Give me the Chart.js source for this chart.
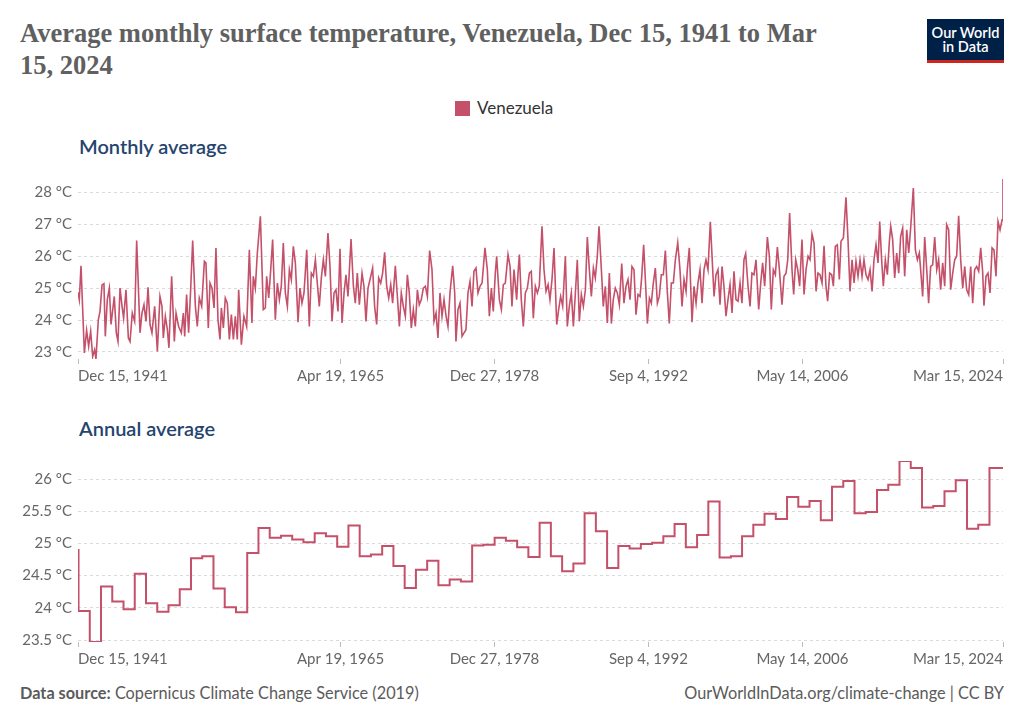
<!DOCTYPE html>
<html>
<head>
<meta charset="utf-8">
<title>Average monthly surface temperature, Venezuela</title>
<script src="https://cdn.jsdelivr.net/npm/chart.js@4.4.0/dist/chart.umd.min.js"></script>
<style>
  body { margin: 0; background: #fff; font-family: Lato, "Noto Sans", sans-serif; }
  #page { position: relative; width: 1024px; height: 723px; overflow: hidden; }
  #title { position: absolute; left: 20px; top: 17px; font-family: "Liberation Serif", serif; font-weight: bold; font-size: 26.5px; line-height: 32px; color: #606060; white-space: nowrap; }
  #logo { position: absolute; left: 927px; top: 19px; width: 77px; height: 44px; background: #002147; border-bottom: 3px solid #ce261e; box-sizing: border-box; color: #fff; text-align: center; font-weight: 600; font-size: 14.5px; line-height: 14px; padding-top: 7px; }
  #legend { position: absolute; left: 455px; top: 97px; font-size: 17px; color: #333; white-space: nowrap; }
  #legend span { display: inline-block; width: 15px; height: 15px; background: #c4506a; vertical-align: -2px; margin-right: 7px; }
  .sub { position: absolute; left: 79px; font-size: 20px; font-weight: 600; color: #26456e; white-space: nowrap; }
  .box { position: absolute; left: 20px; width: 990px; height: 220px; }
  #foot-l { position: absolute; left: 20px; top: 683px; font-size: 16.3px; color: #5b5b5b; }
  #foot-r { position: absolute; right: 20px; top: 683px; font-size: 16.3px; color: #5b5b5b; }
</style>
</head>
<body>
<div id="page">
  <div id="title">Average monthly surface temperature, Venezuela, Dec 15, 1941 to Mar<br>15, 2024</div>
  <div id="logo">Our World<br>in Data</div>
  <div id="legend"><span></span>Venezuela</div>
  <div class="sub" style="top:134px">Monthly average</div>
  <div class="box" style="top:170px"><canvas id="monthly" width="990" height="220"></canvas></div>
  <div class="sub" style="top:416px">Annual average</div>
  <div class="box" style="top:450px"><canvas id="annual" width="990" height="220"></canvas></div>
  <div id="foot-l"><b>Data source:</b> Copernicus Climate Change Service (2019)</div>
  <div id="foot-r">OurWorldInData.org/climate-change | CC BY</div>
</div>
<script>
// x axis ticks (year, month index, day)
const tickDates = [[1941, 11, 15], [1965, 3, 19], [1978, 11, 27], [1992, 8, 4], [2006, 4, 14], [2024, 2, 15]];
const tickLabels = ['Dec 15, 1941', 'Apr 19, 1965', 'Dec 27, 1978', 'Sep 4, 1992', 'May 14, 2006', 'Mar 15, 2024'];

const monthlyYTicks = [23, 24, 25, 26, 27, 28];
const annualYTicks = [23.5, 24, 24.5, 25, 25.5, 26];

// monthly average, decimal year / °C
const monthlyTimes = [
  1941.96,1942.07,1942.22,1942.52,1942.72,1942.90,1943.08,1943.26,1943.43,1943.55,
  1943.76,1943.91,1944.09,1944.26,1944.38,1944.56,1944.74,1944.89,1945.18,1945.36,
  1945.51,1945.69,1945.87,1946.01,1946.22,1946.43,1946.58,1946.78,1946.99,1947.17,
  1947.47,1947.64,1947.82,1948.00,1948.18,1948.36,1948.53,1948.77,1949.01,1949.24,
  1949.42,1949.54,1949.72,1949.90,1950.04,1950.28,1950.52,1950.67,1950.90,1951.14,
  1951.32,1951.44,1951.61,1951.79,1951.97,1952.15,1952.39,1952.56,1952.74,1952.95,
  1953.19,1953.33,1953.54,1953.69,1953.87,1954.05,1954.22,1954.40,1954.58,1954.70,
  1954.88,1955.05,1955.23,1955.41,1955.59,1955.77,1955.94,1956.12,1956.24,1956.48,
  1956.71,1956.95,1957.19,1957.42,1957.54,1957.72,1957.90,1958.17,1958.43,1958.61,
  1958.73,1958.91,1959.09,1959.26,1959.50,1959.68,
  1959.86,1960.03,1960.21,1960.39,1960.57,1960.75,1960.92,1961.10,1961.28,1961.52,
  1961.69,1961.87,1962.05,1962.29,1962.52,1962.70,1962.88,1963.06,1963.23,1963.41,
  1963.59,1963.77,1963.95,1964.18,1964.36,1964.54,1964.72,1964.89,1965.07,1965.25,
  1965.43,1965.61,1965.78,1965.96,1966.23,1966.44,1966.61,1966.79,1966.97,1967.21,
  1967.38,1967.56,1967.74,1967.92,1968.15,1968.33,1968.51,1968.69,1968.87,1969.04,
  1969.22,1969.40,1969.58,1969.76,1969.93,1970.17,1970.35,1970.53,1970.70,1970.88,
  1971.06,1971.24,1971.41,1971.59,1971.77,1971.95,1972.13,1972.30,1972.48,1972.66,
  1972.84,1973.02,1973.22,1973.43,1973.61,1973.79,1973.96,1974.14,1974.32,1974.50,
  1974.68,1974.85,1975.03,1975.27,1975.45,1975.56,1975.74,1975.92,1976.10,1976.28,
  1976.45,1976.63,1976.81,1976.99,1977.16,1977.34,1977.52,1977.70,1977.88,1978.14,
  1978.35,1978.53,1978.71,1978.88,1979.06,1979.18,1979.42,1979.60,1979.77,1979.95,
  1980.19,1980.37,1980.54,1980.72,1980.96,
  1981.08,1981.20,1981.37,1981.55,1981.73,1981.91,1982.09,1982.26,1982.44,1982.62,
  1982.80,1982.97,1983.21,1983.39,1983.57,1983.75,1983.92,1984.10,1984.28,1984.52,
  1984.69,1984.87,1985.05,1985.29,1985.46,1985.64,1985.82,1986.00,1986.18,1986.35,
  1986.53,1986.71,1986.89,1987.07,1987.24,1987.42,1987.60,1987.78,1987.95,1988.13,
  1988.28,1988.49,1988.66,1988.84,1989.02,1989.20,1989.38,1989.55,1989.73,1989.91,
  1990.09,1990.30,1990.50,1990.68,1990.86,1991.04,1991.21,1991.39,1991.57,1991.75,
  1991.93,1992.07,1992.25,1992.46,1992.58,1992.76,1992.93,1993.11,1993.29,1993.47,
  1993.64,1993.82,1994.00,1994.18,1994.36,1994.53,1994.71,1994.89,1995.07,1995.28,
  1995.48,1995.66,1995.84,1996.02,1996.13,1996.31,1996.55,1996.73,1996.91,1997.08,
  1997.26,1997.44,1997.62,1997.79,1997.97,1998.18,1998.39,1998.51,1998.68,1998.86,
  1999.04,1999.22,1999.39,1999.57,1999.75,1999.93,2000.11,2000.28,2000.46,2000.64,
  2000.82,2000.99,2001.17,2001.32,2001.53,2001.71,2001.88,2002.06,2002.24,
  2002.48,2002.66,2002.83,2003.01,2003.25,2003.43,2003.60,2003.78,2003.96,2004.14,
  2004.32,2004.55,2004.73,2004.91,2005.06,2005.23,2005.44,2005.59,2005.77,2005.95,
  2006.12,2006.33,2006.51,2006.69,2006.87,2007.04,2007.22,2007.40,2007.58,2007.75,
  2007.93,2008.11,2008.29,2008.46,2008.61,2008.79,2008.97,2009.12,2009.29,2009.47,
  2009.65,2009.80,2010.01,2010.24,2010.42,2010.60,2010.78,2010.96,2011.13,2011.31,
  2011.49,2011.67,2011.84,2012.02,2012.20,2012.38,2012.56,2012.73,2012.91,2013.09,
  2013.24,2013.41,2013.56,2013.74,2013.92,2014.10,2014.22,2014.39,2014.57,2014.75,
  2014.93,2015.10,2015.28,2015.46,2015.64,2015.82,2015.99,2016.23,2016.41,2016.59,
  2016.76,2016.88,2017.06,2017.24,2017.42,2017.59,2017.77,2017.95,2018.13,2018.31,
  2018.48,2018.66,2018.84,2019.02,2019.19,2019.37,2019.55,2019.73,2019.91,2020.08,
  2020.26,2020.44,2020.62,2020.80,2020.97,2021.15,2021.33,2021.51,2021.68,2021.86,
  2022.04,2022.22,2022.39,2022.51,2022.69,2022.87,2023.05,2023.23,2023.40,2023.58,
  2023.76,2023.94,2024.12,2024.20
];
const monthlyTemps = [
  24.87,24.64,25.70,22.97,23.68,23.18,23.65,22.86,23.07,22.78,
  24.01,24.27,25.10,25.14,23.49,24.64,25.00,23.86,24.74,23.60,
  23.33,25.00,24.43,24.06,24.95,23.44,23.33,24.22,23.96,26.49,
  23.60,24.22,24.48,23.96,25.03,23.86,23.60,24.43,23.02,24.74,
  24.43,23.44,24.12,23.70,23.13,25.37,23.33,24.22,23.80,23.60,
  24.22,23.49,24.80,23.60,24.95,26.49,24.43,23.80,24.69,24.43,
  25.84,25.79,23.75,25.16,25.00,24.38,26.26,24.01,23.39,24.38,
  23.75,24.69,24.53,23.39,24.17,23.39,24.12,23.39,24.95,23.23,
  24.12,23.80,26.20,23.91,25.37,25.00,26.10,27.25,24.33,24.38,
  25.37,24.69,25.58,26.52,24.01,25.16,
  24.64,25.06,26.41,24.85,24.43,25.58,25.27,26.31,25.79,23.93,
  25.00,24.53,24.85,26.20,23.80,25.47,25.37,25.89,25.16,24.43,
  25.32,25.89,25.37,26.73,25.68,23.96,24.85,24.95,24.27,26.23,
  23.91,24.85,25.42,24.74,26.54,25.06,24.53,25.47,24.48,25.47,
  25.06,23.96,25.00,25.27,25.63,24.43,23.86,25.32,25.16,25.47,
  26.12,25.06,24.69,25.11,24.53,25.70,24.74,23.80,24.85,24.43,
  24.12,25.42,24.85,23.75,24.33,23.80,24.95,24.48,24.64,25.00,
  25.06,24.74,26.18,25.58,23.96,24.22,23.44,24.85,24.12,24.64,
  24.12,23.80,24.85,25.70,24.85,23.33,24.33,24.53,23.49,23.60,
  23.70,24.85,25.21,24.43,25.53,25.63,24.85,25.06,25.16,26.26,
  25.58,24.12,25.00,24.27,25.47,26.00,24.64,24.33,25.11,25.16,
  26.05,25.68,24.43,25.58,24.64,
  25.47,26.05,24.64,23.80,24.85,25.00,25.47,25.53,24.06,25.06,
  24.85,25.06,26.94,25.58,24.90,25.11,24.64,25.27,26.26,23.86,
  24.33,24.74,24.43,26.00,23.80,24.43,24.85,23.80,24.85,25.89,
  23.96,24.80,24.43,24.95,26.60,25.58,24.74,25.63,25.32,26.00,
  26.94,25.58,24.43,25.06,23.91,25.47,23.89,24.64,25.00,24.85,
  24.48,25.77,24.53,25.06,25.27,24.64,25.68,25.58,24.17,24.80,
  24.74,25.32,26.36,24.85,23.89,24.69,24.53,25.16,25.63,24.53,
  24.74,25.42,25.42,26.18,24.85,23.89,25.16,25.16,25.89,26.43,
  25.58,24.43,25.27,24.90,25.58,26.26,23.93,25.06,24.53,25.16,
  25.58,24.53,25.58,25.89,25.58,27.08,25.58,24.74,25.42,25.58,
  24.48,25.68,25.06,24.12,24.64,25.11,24.22,25.53,24.64,24.59,
  25.16,24.53,25.89,26.08,25.06,24.43,25.47,25.42,25.89,
  24.33,25.16,25.79,25.06,26.60,26.00,24.33,25.58,25.42,26.29,
  25.58,24.48,25.37,25.47,25.89,27.35,25.58,24.80,25.89,25.58,
  25.06,26.52,24.80,25.58,26.00,25.89,26.70,26.41,24.90,25.47,
  25.42,25.16,26.33,25.06,24.59,25.47,25.42,25.06,26.31,26.36,
  25.27,26.47,26.57,27.85,26.52,24.90,25.89,25.16,25.84,25.37,
  25.89,25.37,25.89,25.42,25.27,25.58,24.90,25.89,26.36,25.79,
  27.09,25.89,25.06,25.89,25.42,26.47,26.94,26.52,25.32,26.10,
  25.47,26.62,26.88,25.37,26.83,26.10,26.88,28.14,26.20,25.89,
  26.10,25.58,24.74,26.60,25.58,24.53,25.68,25.73,26.60,25.58,
  25.89,24.95,25.79,25.06,26.99,26.83,24.95,25.47,25.89,26.00,
  27.27,25.89,25.00,25.68,24.95,24.80,25.68,24.53,25.58,25.68,
  25.53,26.26,25.53,24.45,25.37,25.47,24.85,26.26,26.20,25.37,
  27.09,26.83,27.14,28.42
];

// annual average per calendar year, °C
const annualYears = [];
for (let y = 1941; y <= 2023; y++) annualYears.push(y);
const annualTemps = [
  24.90,23.95,23.47,24.33,24.10,23.98,24.53,24.07,23.94,24.04,
  24.29,24.77,24.80,24.30,24.01,23.93,24.85,25.24,25.09,25.12,
  25.06,25.02,25.16,25.11,24.95,25.28,24.80,24.83,24.96,24.65,
  24.31,24.59,24.73,24.35,24.44,24.41,24.97,24.98,25.09,25.04,
  24.94,24.79,25.32,24.80,24.57,24.69,25.47,25.19,24.62,24.96,
  24.92,24.99,25.01,25.11,25.30,24.94,25.13,25.65,24.78,24.80,
  25.11,25.29,25.46,25.38,25.72,25.57,25.66,25.36,25.88,25.97,
  25.47,25.49,25.83,25.91,26.28,26.17,25.56,25.58,25.81,25.98,
  25.23,25.29,26.17
];

function decimalYear(y, m, d) {
  const start = Date.UTC(y, 0, 1), end = Date.UTC(y + 1, 0, 1);
  return y + (Date.UTC(y, m, d) - start) / (end - start);
}
const tickPos = tickDates.map(d => decimalYear(d[0], d[1], d[2]));
const xMin = tickPos[0];
const xMax = tickPos[tickPos.length - 1];

const lineColor = '#c4506a';
const font = { family: 'Lato', size: 15 };

function makeOptions(yTicks, yMin, yMax, pad) {
  return {
    responsive: false,
    animation: false,
    layout: { padding: pad },
    plugins: { legend: { display: false }, tooltip: { enabled: false } },
    elements: { point: { radius: 0 }, line: { tension: 0 } },
    scales: {
      x: {
        type: 'linear', min: xMin, max: xMax,
        afterBuildTicks: s => { s.ticks = tickPos.map(v => ({ value: v })); },
        afterFit: s => { s.height = 26; s.paddingLeft = 0; s.paddingRight = 0; },
        ticks: { autoSkip: false, maxRotation: 0, align: 'inner', padding: 3, color: '#666', font: font,
                 callback: (v, i) => tickLabels[i] },
        grid: { drawOnChartArea: false, drawTicks: true, tickLength: 5, tickColor: '#bbb' },
        border: { display: false }
      },
      y: {
        min: yMin, max: yMax,
        afterBuildTicks: s => { s.ticks = yTicks.map(v => ({ value: v })); },
        // fixed axis width, and let the layout padding decide the plot top
        afterFit: s => { s.width = 58; s.paddingTop = 0; s.paddingBottom = 0; },
        ticks: { padding: 6, color: '#666', font: font, callback: v => v + ' °C' },
        grid: { color: '#dadada', drawTicks: false },
        border: { display: false, dash: [3, 3] }
      }
    }
  };
}

new Chart(document.getElementById('monthly'), {
  type: 'line',
  data: {
    datasets: [{
      label: 'Venezuela',
      data: monthlyTimes.map((t, i) => ({ x: t, y: monthlyTemps[i] })),
      borderColor: lineColor,
      borderWidth: 1.6,
      fill: false
    }]
  },
  options: makeOptions(monthlyYTicks, Math.min(...monthlyTemps), Math.max(...monthlyTemps),
                       { top: 9, right: 7, bottom: 5, left: 0 })
});

// each year holds its value until the next year starts
const annualPoints = annualYears.map((y, i) => ({ x: i === 0 ? xMin : y, y: annualTemps[i] }));
annualPoints.push({ x: xMax, y: annualTemps[annualTemps.length - 1] });

new Chart(document.getElementById('annual'), {
  type: 'line',
  data: {
    datasets: [{
      label: 'Venezuela',
      data: annualPoints,
      borderColor: lineColor,
      borderWidth: 2,
      stepped: true,
      fill: false
    }]
  },
  options: makeOptions(annualYTicks, Math.min(...annualTemps), Math.max(...annualTemps),
                       { top: 11, right: 7, bottom: 2, left: 0 })
});
</script>
</body>
</html>
